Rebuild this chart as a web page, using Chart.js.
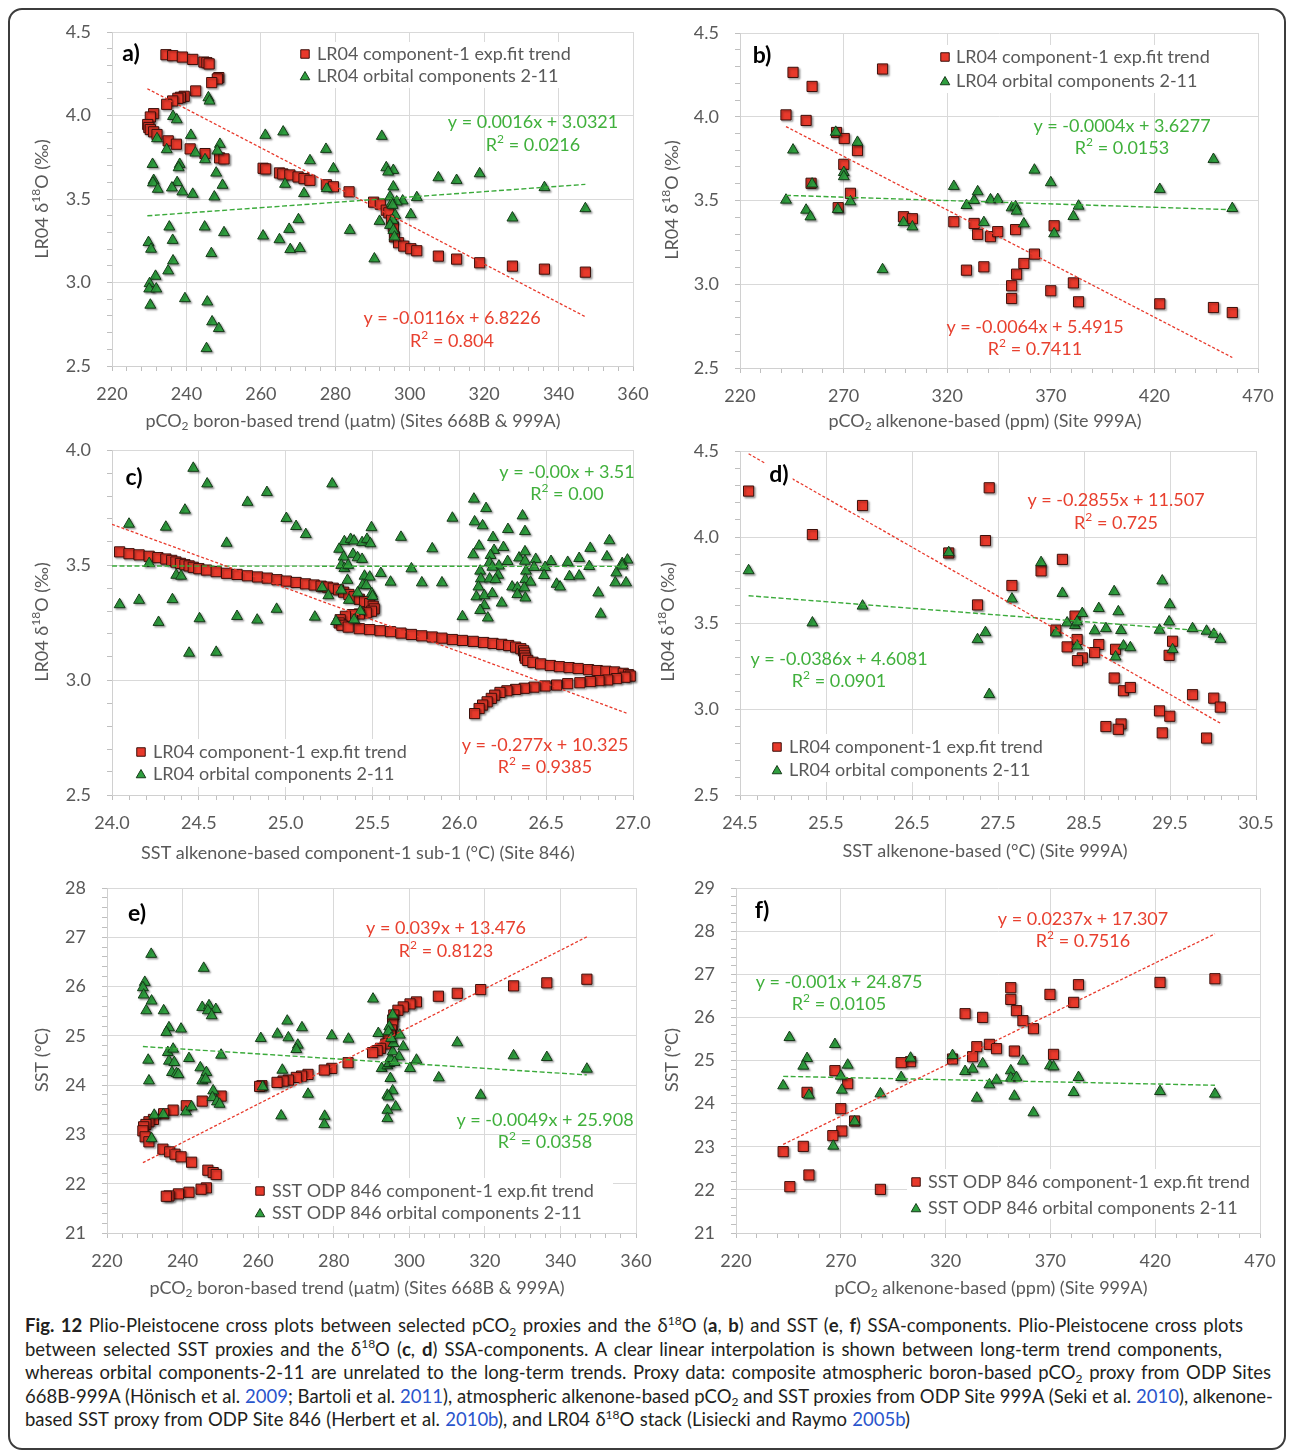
<!DOCTYPE html>
<html>
<head>
<meta charset="utf-8">
<script src="https://cdn.jsdelivr.net/npm/chart.js@4.4.0/dist/chart.umd.min.js"></script>
<style>
  body { margin: 0; width: 1293px; height: 1451px; position: relative; overflow: hidden; background: #fff; font-family: Lato, "Open Sans", sans-serif; }
  .frame { position: absolute; left: 8px; top: 8px; width: 1278px; height: 1442px; box-sizing: border-box; border: 2px solid #3c3c3c; border-radius: 14px; }
  canvas { position: absolute; }
  #cap { position: absolute; left: 25px; top: 1314px; font-size: 18.5px; color: #231f20; }
  #cap .ln { height: 23.5px; line-height: 23.5px; white-space: nowrap; }
  #cap .ln span.t { display: inline-block; }
  #cap sub, #cap sup { font-size: 0.65em; line-height: 0; position: relative; vertical-align: 0; }
  #cap sup { top: -0.6em; }
  #cap sub { top: 0.3em; }
  #cap a { color: #2a55cc; text-decoration: none; }
</style>
</head>
<body>
<div class="frame"></div>

<div id="cap">
  <div class="ln" data-w="1218"><span class="t"><b>Fig. 12</b> Plio-Pleistocene cross plots between selected pCO<sub>2</sub> proxies and the δ<sup>18</sup>O (<b>a</b>, <b>b</b>) and SST (<b>e</b>, <b>f</b>) SSA-components. Plio-Pleistocene cross plots</span></div>
  <div class="ln" data-w="1197"><span class="t">between selected SST proxies and the δ<sup>18</sup>O (<b>c</b>, <b>d</b>) SSA-components. A clear linear interpolation is shown between long-term trend components,</span></div>
  <div class="ln" data-w="1246"><span class="t">whereas orbital components-2-11 are unrelated to the long-term trends. Proxy data: composite atmospheric boron-based pCO<sub>2</sub> proxy from ODP Sites</span></div>
  <div class="ln" data-w="1248"><span class="t">668B-999A (Hönisch et al. <a>2009</a>; Bartoli et al. <a>2011</a>), atmospheric alkenone-based pCO<sub>2</sub> and SST proxies from ODP Site 999A (Seki et al. <a>2010</a>), alkenone-</span></div>
  <div class="ln" data-w="885"><span class="t">based SST proxy from ODP Site 846 (Herbert et al. <a>2010b</a>), and LR04 δ<sup>18</sup>O stack (Lisiecki and Raymo <a>2005b</a>)</span></div>
</div>

<script>
// ---- a) LR04 vs boron pCO2 ----
const aTrendX = [234.5,236.3,238.9,241.7,244.7,245.5,246.1,248.7,248.3,246.8,242.5,239.4,238.4,237.7,236.3,234.7,231.2,230.3,229.6,229.9,230.3,231.2,232.1,235.1,237.3,241.0,245.0,248.9,250.1,260.6,261.3,265.0,265.9,267.8,270.0,271.6,273.2,277.6,279.5,283.7,290.3,292.1,293.7,294.4,295.1,295.6,295.9,297.0,298.4,300.3,301.9,307.7,312.6,318.8,327.6,336.2,347.2];
const aTrendY = [4.364,4.358,4.350,4.336,4.320,4.316,4.309,4.227,4.219,4.197,4.147,4.115,4.109,4.103,4.087,4.067,4.011,3.991,3.946,3.928,3.916,3.902,3.886,3.848,3.828,3.800,3.772,3.746,3.740,3.684,3.680,3.656,3.650,3.644,3.632,3.622,3.612,3.585,3.573,3.543,3.481,3.469,3.433,3.417,3.373,3.333,3.273,3.238,3.218,3.202,3.190,3.158,3.140,3.118,3.098,3.080,3.062];
const aOrbX = [245.9,246.2,236.4,237.4,232.1,241.2,261.2,266.0,292.5,234.7,249.0,248.3,277.5,242.4,245.0,273.2,230.9,238.2,237.9,279.5,293.7,295.6,294.2,307.7,312.6,318.8,248.0,231.2,231.0,237.5,236.1,232.3,238.9,241.7,266.5,249.7,247.5,271.6,277.7,336.2,295.6,294.7,301.9,298.1,296.5,295.1,295.4,300.3,327.6,347.2,291.9,270.1,296.1,295.4,294.7,295.6,295.9,235.4,244.9,250.1,267.6,260.6,283.9,236.3,265.0,229.8,230.5,267.9,270.5,246.7,290.5,236.4,235.1,231.7,230.1,230.0,231.9,230.3,239.6,245.6,246.9,248.7,245.4];
const aOrbY = [4.107,4.087,3.995,3.975,3.862,3.882,3.882,3.902,3.876,3.796,3.828,3.788,3.798,3.776,3.736,3.730,3.708,3.708,3.688,3.682,3.688,3.672,3.662,3.628,3.612,3.652,3.656,3.612,3.597,3.599,3.567,3.559,3.543,3.529,3.589,3.583,3.513,3.533,3.563,3.569,3.573,3.513,3.509,3.489,3.483,3.473,3.463,3.407,3.387,3.443,3.367,3.377,3.403,3.373,3.343,3.313,3.273,3.333,3.333,3.299,3.319,3.279,3.313,3.253,3.257,3.240,3.200,3.198,3.204,3.174,3.142,3.130,3.070,3.038,2.994,2.962,2.962,2.865,2.904,2.884,2.765,2.725,2.605];
const aRedFit = [-0.0116, 6.8226];
const aGreenFit = [0.0016, 3.0321];
const aFitRange = [229.5, 347.2];

// ---- b) LR04 vs alkenone pCO2 ----
const bTrendX = [245.6,254.8,288.8,242.2,251.9,266.6,270.3,276.7,270.1,254.3,273.3,267.4,298.9,303.2,323.2,333.0,334.7,340.9,344.4,353.0,371.6,362.1,357.0,353.5,337.7,329.3,351.1,351.1,370.0,380.9,383.4,422.6,448.5,457.6];
const bTrendY = [4.265,4.181,4.285,4.011,3.978,3.906,3.870,3.798,3.716,3.603,3.543,3.457,3.403,3.391,3.373,3.363,3.298,3.284,3.314,3.326,3.349,3.180,3.124,3.060,3.104,3.084,2.991,2.915,2.961,3.008,2.895,2.883,2.861,2.831];
const bOrbX = [266.2,276.7,245.6,270.1,270.1,254.8,242.2,251.9,254.0,267.2,273.3,288.8,298.9,303.2,323.2,329.3,333.0,334.7,337.7,340.9,344.4,351.1,353.0,353.5,357.0,362.1,370.0,371.6,380.9,383.4,422.6,448.5,457.6];
const bOrbY = [3.908,3.848,3.802,3.668,3.643,3.599,3.503,3.443,3.403,3.447,3.493,3.088,3.369,3.343,3.585,3.471,3.501,3.553,3.369,3.505,3.507,3.457,3.463,3.437,3.361,3.682,3.607,3.302,3.405,3.467,3.567,3.746,3.453];
const bRedFit = [-0.0064, 5.4915];
const bGreenFit = [-0.0004, 3.6277];
const bFitRange = [242.2, 457.6];

// ---- c) LR04 vs SST site 846 ----
const cTrendX = [24.044,24.098,24.156,24.214,24.264,24.310,24.344,24.368,24.394,24.420,24.444,24.468,24.500,24.544,24.600,24.660,24.720,24.780,24.838,24.894,24.950,25.004,25.060,25.114,25.164,25.204,25.240,25.274,25.304,25.334,25.364,25.394,25.424,25.454,25.484,25.504,25.510,25.494,25.464,25.424,25.384,25.344,25.314,25.308,25.324,25.360,25.424,25.484,25.544,25.604,25.664,25.724,25.784,25.844,25.900,25.960,26.018,26.080,26.140,26.194,26.244,26.284,26.324,26.354,26.370,26.376,26.376,26.380,26.394,26.424,26.468,26.524,26.576,26.632,26.684,26.744,26.794,26.844,26.894,26.944,26.974,26.984,26.954,26.904,26.854,26.804,26.754,26.694,26.624,26.560,26.494,26.430,26.374,26.324,26.274,26.234,26.204,26.184,26.160,26.134,26.114,26.088];
const cTrendY = [3.557,3.549,3.544,3.538,3.532,3.526,3.520,3.513,3.507,3.501,3.496,3.490,3.484,3.478,3.471,3.464,3.459,3.453,3.448,3.443,3.436,3.430,3.424,3.418,3.413,3.408,3.404,3.399,3.392,3.382,3.372,3.362,3.351,3.341,3.332,3.321,3.309,3.299,3.292,3.287,3.284,3.277,3.262,3.248,3.238,3.230,3.223,3.219,3.214,3.210,3.204,3.198,3.192,3.187,3.182,3.176,3.172,3.168,3.163,3.159,3.155,3.150,3.143,3.136,3.127,3.117,3.105,3.095,3.085,3.077,3.070,3.063,3.058,3.054,3.050,3.045,3.041,3.038,3.035,3.029,3.023,3.017,3.012,3.006,3.000,2.997,2.993,2.988,2.984,2.978,2.974,2.969,2.964,2.959,2.953,2.946,2.934,2.920,2.905,2.891,2.876,2.854];
const cOrbX = [24.468,24.548,25.268,24.892,24.780,24.420,24.098,24.310,25.004,25.060,25.116,24.660,24.214,24.370,24.398,24.044,24.156,24.348,24.268,24.444,24.600,24.504,24.720,24.836,24.948,25.168,
  25.338,25.374,25.394,25.440,25.468,25.488,25.494,25.308,25.334,25.388,25.414,25.440,25.320,25.338,25.360,25.356,25.454,25.484,25.444,25.464,25.210,25.320,25.246,25.364,25.414,25.496,25.500,25.430,25.394,25.290,25.548,25.604,25.664,25.724,25.784,25.844,25.900,25.960,
  26.084,26.154,26.364,26.088,26.134,26.280,26.378,26.194,26.114,26.200,26.254,26.080,26.180,26.174,26.344,26.378,26.378,26.440,26.528,26.624,26.690,26.754,26.864,26.850,26.968,26.938,26.278,26.120,26.228,26.190,26.384,26.430,26.494,26.748,26.904,26.224,26.124,26.174,26.208,26.380,26.410,26.488,26.634,26.690,26.560,26.580,26.898,26.960,26.304,26.334,26.374,26.110,26.098,26.144,26.190,26.334,26.380,26.244,26.144,26.120,26.164,26.018,26.800,26.814,26.938];
const cOrbY = [3.921,3.853,3.853,3.816,3.773,3.739,3.678,3.665,3.703,3.668,3.633,3.595,3.507,3.456,3.452,3.328,3.347,3.350,3.251,3.117,3.121,3.267,3.277,3.261,3.308,3.274,
  3.602,3.612,3.605,3.598,3.612,3.593,3.663,3.569,3.535,3.547,3.532,3.525,3.499,3.485,3.499,3.434,3.452,3.448,3.413,3.411,3.402,3.391,3.367,3.347,3.379,3.376,3.364,3.299,3.262,3.255,3.464,3.426,3.621,3.484,3.423,3.571,3.423,3.704,
  3.787,3.746,3.714,3.688,3.671,3.655,3.646,3.620,3.583,3.564,3.577,3.545,3.542,3.510,3.531,3.558,3.517,3.525,3.516,3.512,3.529,3.573,3.606,3.536,3.522,3.507,3.516,3.474,3.496,3.491,3.474,3.490,3.490,3.494,3.466,3.456,3.440,3.440,3.437,3.437,3.426,3.455,3.450,3.453,3.417,3.405,3.423,3.423,3.405,3.401,3.401,3.405,3.362,3.367,3.376,3.372,3.357,3.335,3.324,3.303,3.270,3.276,3.379,3.287,3.496];
const cRedFit = [-0.277, 10.325];
const cGreenFit = [-0.0006, 3.51];
const cFitRange = [24.0, 26.97];

// ---- d) LR04 vs SST site 999A ----
const dTrendX = [24.60,25.342,25.925,27.398,27.354,26.927,28.249,28.001,27.662,27.262,28.396,28.173,28.420,28.304,28.672,28.624,28.867,28.480,28.424,28.851,28.959,29.039,29.530,29.490,29.762,30.009,30.085,29.378,29.498,28.755,28.931,28.899,29.410,29.925];
const dTrendY = [4.267,4.014,4.183,4.286,3.979,3.907,3.870,3.803,3.718,3.605,3.540,3.459,3.404,3.361,3.375,3.328,3.347,3.297,3.281,3.180,3.106,3.125,3.394,3.312,3.083,3.063,3.011,2.989,2.958,2.898,2.913,2.882,2.861,2.831];
const dOrbX = [24.60,25.342,25.925,26.927,27.262,27.354,27.398,27.662,28.001,28.173,28.249,28.304,28.396,28.420,28.420,28.480,28.624,28.672,28.755,28.851,28.899,28.931,28.867,28.959,29.039,29.410,29.378,29.498,29.490,29.530,29.762,29.925,30.009,30.085];
const dOrbY = [3.805,3.501,3.599,3.910,3.404,3.445,3.085,3.640,3.852,3.443,3.673,3.501,3.486,3.507,3.367,3.556,3.455,3.585,3.468,3.683,3.566,3.457,3.303,3.367,3.357,3.745,3.459,3.607,3.507,3.346,3.468,3.453,3.435,3.406];
const dRedFit = [-0.2855, 11.507];
const dGreenFit = [-0.0386, 4.6081];
const dFitRange = [24.6, 30.085];

// ---- e) SST 846 vs boron pCO2 ----
const eTrendX = [347.0,336.4,327.6,318.9,312.7,307.7,301.9,300.2,298.4,297.0,295.9,295.6,295.6,295.3,295.0,294.4,293.8,292.4,291.5,290.3,283.8,279.5,277.5,273.2,271.5,270.1,268.0,266.6,265.0,261.0,260.4,250.2,245.2,241.0,237.5,235.0,232.3,231.1,230.3,229.7,229.5,230.1,231.1,234.8,236.6,238.0,239.6,242.4,246.7,248.1,248.9,246.3,244.9,241.7,238.9,236.4,235.7];
const eTrendY = [26.149,26.075,26.014,25.939,25.864,25.804,25.688,25.648,25.587,25.519,25.424,25.322,25.221,25.119,25.018,24.930,24.835,24.747,24.699,24.659,24.455,24.340,24.306,24.218,24.184,24.157,24.103,24.083,24.056,23.988,23.974,23.778,23.676,23.581,23.493,23.419,23.304,23.256,23.202,23.154,23.073,22.951,22.850,22.701,22.646,22.599,22.545,22.436,22.274,22.226,22.186,21.915,21.888,21.827,21.793,21.752,21.745];
const eOrbX = [231.7,245.6,230.0,229.5,229.7,231.8,230.4,235.0,245.2,247.0,246.7,248.8,247.7,236.4,235.7,239.6,236.1,237.5,230.9,236.4,237.8,241.7,250.2,231.1,237.2,238.4,238.9,244.7,246.3,245.2,246.1,248.1,247.9,249.1,249.8,232.5,234.9,240.9,242.4,231.8,260.7,265.1,267.7,268.0,270.5,270.1,271.6,266.4,261.2,273.2,266.1,277.6,277.5,279.5,283.9,290.4,291.8,292.7,294.2,294.7,295.0,295.6,295.8,295.6,294.7,294.5,295.2,297.5,298.4,297.3,296.1,295.0,295.6,294.2,294.5,296.4,294.2,294.2,300.2,301.9,307.8,312.7,318.9,327.6,336.4,347.0];
const eOrbY = [26.657,26.373,26.088,25.980,25.831,25.709,25.512,25.512,25.580,25.614,25.512,25.539,25.411,25.167,25.072,25.140,24.665,24.733,24.509,24.489,24.462,24.543,24.611,24.089,24.259,24.238,24.218,24.354,24.259,24.089,24.123,23.886,23.751,23.663,23.615,23.392,23.405,23.459,23.561,22.917,24.950,25.038,25.302,24.963,24.814,24.726,25.167,24.306,23.967,23.818,23.378,23.371,23.202,25.004,24.936,25.749,25.051,24.340,24.394,24.442,24.543,24.679,24.848,25.424,25.187,25.085,24.950,25.018,24.780,24.577,24.462,24.137,23.886,23.798,23.764,23.561,23.493,23.324,24.340,24.509,24.150,24.862,23.798,24.598,24.564,24.327];
const eRedFit = [0.039, 13.476];
const eGreenFit = [-0.0049, 25.908];
const eFitRange = [229.5, 347.0];

// ---- f) SST 846 vs alkenone pCO2 ----
const fTrendX = [448.5,422.3,383.4,351.1,351.1,369.8,381.1,353.8,356.9,361.9,329.3,337.7,340.9,334.9,344.3,352.8,371.5,332.9,323.3,303.3,298.8,267.2,273.3,253.9,270.0,276.6,270.5,266.2,252.1,242.5,254.8,245.7,288.9];
const fTrendY = [26.896,26.811,26.757,26.688,26.417,26.533,26.348,26.155,25.923,25.737,26.085,26.000,25.374,25.320,25.274,25.219,25.142,25.088,25.034,24.972,24.949,24.764,24.462,24.261,23.883,23.597,23.365,23.257,23.009,22.886,22.345,22.074,22.012];
const fOrbX = [245.5,267.2,253.9,252.1,273.3,242.5,254.8,270.0,270.5,266.4,276.6,288.9,298.8,303.3,323.3,329.3,332.9,337.7,334.9,340.9,344.3,351.1,351.1,353.8,352.8,356.9,361.9,369.8,371.5,381.1,383.4,422.3,448.5];
const fOrbY = [25.536,25.374,25.049,24.872,24.895,24.416,24.199,24.640,24.315,23.017,23.581,24.230,24.609,25.057,25.119,24.748,24.802,24.926,24.130,24.439,24.547,24.764,24.594,24.609,24.176,24.988,23.790,24.879,24.856,24.261,24.609,24.284,24.223];
const fRedFit = [0.0237, 17.307];
const fGreenFit = [-0.001, 24.875];
const fFitRange = [242.5, 448.5];

const lrNames = ['LR04 component-1 exp.fit trend', 'LR04 orbital components 2-11'];
const sstNames = ['SST ODP 846 component-1 exp.fit trend', 'SST ODP 846 orbital components 2-11'];

const FONT = 'Lato, "Open Sans", sans-serif';
const GRAY = '#595959';
const RED = '#e8392b', RED_EDGE = '#3b0f0a';
const GREEN = '#2f9f3f', GREEN_EDGE = '#153a18';
const RED_TXT = '#e8402f', GREEN_TXT = '#40b03c';

// page-pixel layout of each panel
const panels = [
  { box: [20, 14, 640, 420], plot: [112, 32, 633, 366],
    x: { min: 220, max: 360, major: 20, minor: 4, dec: 0 }, y: { min: 2.5, max: 4.5, major: 0.5, minor: 0.1, dec: 1 },
    red: [aTrendX, aTrendY], green: [aOrbX, aOrbY], redFit: aRedFit, greenFit: aGreenFit, range: aFitRange,
    xTitle: ['pCO{_2} boron-based trend (µatm) (Sites 668B & 999A)', 353, 421], yTitle: ['LR04 δ{^18}O (‰)', 42, 199],
    letter: ['a)', 131, 54], legend: { names: lrNames, mx: 305, tx: 317, y: [54, 76], bg: [297, 42, 293, 46] },
    eqs: [['y = 0.0016x + 3.0321', 533, 122, GREEN_TXT], ['R{^2} = 0.0216', 533, 145, GREEN_TXT],
          ['y = -0.0116x + 6.8226', 452, 318, RED_TXT], ['R{^2} = 0.804', 452, 341, RED_TXT]] },
  { box: [650, 14, 630, 420], plot: [740, 33, 1258, 368],
    x: { min: 220, max: 470, major: 50, minor: 10, dec: 0 }, y: { min: 2.5, max: 4.5, major: 0.5, minor: 0.1, dec: 1 },
    red: [bTrendX, bTrendY], green: [bOrbX, bOrbY], redFit: bRedFit, greenFit: bGreenFit, range: bFitRange,
    xTitle: ['pCO{_2} alkenone-based (ppm) (Site 999A)', 985, 421], yTitle: ['LR04 δ{^18}O (‰)', 672, 200],
    letter: ['b)', 762, 56], legend: { names: lrNames, mx: 945, tx: 956, y: [57, 81], bg: [937, 45, 293, 48] },
    eqs: [['y = -0.0004x + 3.6277', 1122, 126, GREEN_TXT], ['R{^2} = 0.0153', 1122, 148, GREEN_TXT],
          ['y = -0.0064x + 5.4915', 1035, 327, RED_TXT], ['R{^2} = 0.7411', 1035, 349, RED_TXT]] },
  { box: [20, 436, 640, 430], plot: [112, 450, 633, 795],
    x: { min: 24, max: 27, major: 0.5, minor: 0.1, dec: 1 }, y: { min: 2.5, max: 4.0, major: 0.5, minor: 0.1, dec: 1 },
    red: [cTrendX, cTrendY], green: [cOrbX, cOrbY], redFit: cRedFit, greenFit: cGreenFit, range: cFitRange,
    xTitle: ['SST alkenone-based component-1 sub-1 (°C) (Site 846)', 358, 853], yTitle: ['LR04 δ{^18}O (‰)', 42, 622],
    letter: ['c)', 134, 478], legend: { names: lrNames, mx: 141, tx: 153, y: [752, 774], bg: [132, 739, 295, 48] },
    eqs: [['y = -0.00x + 3.51', 567, 472, GREEN_TXT], ['R{^2} = 0.00', 567, 494, GREEN_TXT],
          ['y = -0.277x + 10.325', 545, 745, RED_TXT], ['R{^2} = 0.9385', 545, 767, RED_TXT]] },
  { box: [650, 436, 630, 430], plot: [740, 451, 1256, 795],
    x: { min: 24.5, max: 30.5, major: 1, minor: 0.2, dec: 1 }, y: { min: 2.5, max: 4.5, major: 0.5, minor: 0.1, dec: 1 },
    red: [dTrendX, dTrendY], green: [dOrbX, dOrbY], redFit: dRedFit, greenFit: dGreenFit, range: dFitRange,
    xTitle: ['SST alkenone-based (°C) (Site 999A)', 985, 851], yTitle: ['LR04 δ{^18}O (‰)', 668, 622],
    letter: ['d)', 779, 475], legend: { names: lrNames, mx: 777, tx: 789, y: [747, 770], bg: [768, 734, 295, 48] },
    eqs: [['y = -0.2855x + 11.507', 1116, 500, RED_TXT], ['R{^2} = 0.725', 1116, 523, RED_TXT],
          ['y = -0.0386x + 4.6081', 839, 659, GREEN_TXT], ['R{^2} = 0.0901', 839, 681, GREEN_TXT]] },
  { box: [20, 870, 640, 430], plot: [107, 888, 636, 1233],
    x: { min: 220, max: 360, major: 20, minor: 4, dec: 0 }, y: { min: 21, max: 28, major: 1, minor: 0.2, dec: 0 },
    red: [eTrendX, eTrendY], green: [eOrbX, eOrbY], redFit: eRedFit, greenFit: eGreenFit, range: eFitRange,
    xTitle: ['pCO{_2} boron-based trend (µatm) (Sites 668B & 999A)', 357, 1288], yTitle: ['SST (°C)', 42, 1060],
    letter: ['e)', 137, 914], legend: { names: sstNames, mx: 260, tx: 272, y: [1191, 1213], bg: [251, 1178, 362, 48] },
    eqs: [['y = 0.039x + 13.476', 446, 928, RED_TXT], ['R{^2} = 0.8123', 446, 951, RED_TXT],
          ['y = -0.0049x + 25.908', 545, 1120, GREEN_TXT], ['R{^2} = 0.0358', 545, 1142, GREEN_TXT]] },
  { box: [650, 870, 630, 430], plot: [736, 888, 1260, 1233],
    x: { min: 220, max: 470, major: 50, minor: 10, dec: 0 }, y: { min: 21, max: 29, major: 1, minor: 0.2, dec: 0 },
    red: [fTrendX, fTrendY], green: [fOrbX, fOrbY], redFit: fRedFit, greenFit: fGreenFit, range: fFitRange,
    xTitle: ['pCO{_2} alkenone-based (ppm) (Site 999A)', 991, 1288], yTitle: ['SST (°C)', 672, 1060],
    letter: ['f)', 762, 911], legend: { names: sstNames, mx: 916, tx: 928, y: [1182, 1208], bg: [907, 1169, 353, 50] },
    eqs: [['y = 0.0237x + 17.307', 1083, 919, RED_TXT], ['R{^2} = 0.7516', 1083, 941, RED_TXT],
          ['y = -0.001x + 24.875', 839, 982, GREEN_TXT], ['R{^2} = 0.0105', 839, 1004, GREEN_TXT]] }
];

function zip(pair) { return pair[0].map((x, i) => ({ x: x, y: pair[1][i] })); }

function fitLine(fit, range) {
  return range.map(x => ({ x: x, y: fit[0] * x + fit[1] }));
}

function parts(s) {
  const out = [], re = /\{([_^])([^}]*)\}/g;
  let last = 0, m;
  while ((m = re.exec(s))) {
    if (m.index > last) out.push({ t: s.slice(last, m.index), k: '' });
    out.push({ t: m[2], k: m[1] });
    last = re.lastIndex;
  }
  if (last < s.length) out.push({ t: s.slice(last), k: '' });
  return out;
}

function richText(ctx, s, x, y, size, color, align, weight) {
  const ps = parts(s);
  const font = k => `${weight || 'normal'} ${k ? Math.round(size * 0.65) : size}px ${FONT}`;
  let w = 0;
  ps.forEach(p => { ctx.font = font(p.k); p.w = ctx.measureText(p.t).width; w += p.w; });
  let cx = align === 'center' ? x - w / 2 : align === 'right' ? x - w : x;
  ctx.fillStyle = color;
  ctx.textAlign = 'left';
  ctx.textBaseline = 'middle';
  ps.forEach(p => {
    ctx.font = font(p.k);
    const dy = p.k === '^' ? -size * 0.34 : p.k === '_' ? size * 0.26 : 0;
    ctx.fillText(p.t, cx, y + dy);
    cx += p.w;
  });
  return w;
}

function marker(ctx, style, x, y, r) {
  ctx.fillStyle = style === 'rect' ? RED : GREEN;
  ctx.strokeStyle = style === 'rect' ? RED_EDGE : GREEN_EDGE;
  ctx.lineWidth = 1;
  Chart.helpers.drawPoint(ctx, { pointStyle: style, radius: r, rotation: 0, borderWidth: 1 }, x, y);
}

function deco(p) {
  const ox = p.box[0], oy = p.box[1];
  return {
    id: 'deco',
    beforeDatasetDraw(chart, args) {
      const ctx = chart.ctx;
      if (!chart.data.datasets[args.index].isFit) {
        ctx.shadowColor = 'rgba(0,0,0,0.35)';
        ctx.shadowBlur = 2;
        ctx.shadowOffsetX = 1.5;
        ctx.shadowOffsetY = 1.5;
      }
    },
    afterDatasetDraw(chart) {
      const ctx = chart.ctx;
      ctx.shadowColor = 'rgba(0,0,0,0)';
      ctx.shadowBlur = 0;
      ctx.shadowOffsetX = 0;
      ctx.shadowOffsetY = 0;
    },
    afterDraw(chart) {
      const ctx = chart.ctx;
      ctx.save();
      // axis titles
      richText(ctx, p.xTitle[0], p.xTitle[1] - ox, p.xTitle[2] - oy, 18, GRAY, 'center');
      ctx.save();
      ctx.translate(p.yTitle[1] - ox, p.yTitle[2] - oy);
      ctx.rotate(-Math.PI / 2);
      richText(ctx, p.yTitle[0], 0, 0, 18, GRAY, 'center');
      ctx.restore();
      // panel letter on white
      ctx.font = `bold 23px ${FONT}`;
      const lw = ctx.measureText(p.letter[0]).width;
      ctx.fillStyle = '#fff';
      ctx.fillRect(p.letter[1] - ox - lw / 2 - 4, p.letter[2] - oy - 14, lw + 8, 28);
      richText(ctx, p.letter[0], p.letter[1] - ox, p.letter[2] - oy, 23, '#000', 'center', 'bold');
      // legend
      const L = p.legend;
      ctx.fillStyle = '#fff';
      ctx.fillRect(L.bg[0] - ox, L.bg[1] - oy, L.bg[2], L.bg[3]);
      marker(ctx, 'rect', L.mx - ox, L.y[0] - oy, 6);
      marker(ctx, 'triangle', L.mx - ox, L.y[1] - oy + 1, 5.5);
      richText(ctx, L.names[0], L.tx - ox, L.y[0] - oy, 18, GRAY, 'left');
      richText(ctx, L.names[1], L.tx - ox, L.y[1] - oy, 18, GRAY, 'left');
      // regression equations
      p.eqs.forEach(e => richText(ctx, e[0], e[1] - ox, e[2] - oy, 18, e[3], 'center'));
      ctx.restore();
    }
  };
}

function axis(a, isX, size) {
  const isMajor = v => Math.abs((v - a.min) / a.major - Math.round((v - a.min) / a.major)) < 1e-6;
  return {
    type: 'linear',
    min: a.min,
    max: a.max,
    afterBuildTicks: s => {
      const n = Math.round((a.max - a.min) / a.minor), t = [];
      for (let i = 0; i <= n; i++) t.push({ value: +(a.min + i * a.minor).toFixed(6) });
      s.ticks = t;
    },
    afterFit: s => {
      // fixed axis size; keep label overhang from moving the plot area
      if (isX) { s.height = size; s.paddingLeft = 0; s.paddingRight = 0; }
      else { s.width = size; s.paddingTop = 0; s.paddingBottom = 0; }
    },
    ticks: {
      autoSkip: false,
      maxRotation: 0,
      minRotation: 0,
      padding: isX ? 12 : 16,
      color: GRAY,
      font: { family: FONT, size: 18 },
      callback: v => isMajor(v) ? v.toFixed(a.dec) : ''
    },
    grid: {
      color: c => (c.tick && isMajor(c.tick.value)) ? '#d9d9d9' : 'rgba(0,0,0,0)',
      tickColor: '#bfbfbf',
      tickLength: 5,
      lineWidth: 1
    },
    border: { display: true, color: '#d0d0d0', width: 1 }
  };
}

panels.forEach(p => {
  const [bx, by, bw, bh] = p.box, [pl, pt, pr, pb] = p.plot;
  const cv = document.createElement('canvas');
  cv.width = bw; cv.height = bh;
  cv.style.left = bx + 'px'; cv.style.top = by + 'px';
  cv.style.width = bw + 'px'; cv.style.height = bh + 'px';
  document.body.appendChild(cv);

  new Chart(cv, {
    type: 'scatter',
    data: {
      datasets: [
        { data: fitLine(p.redFit, p.range), isFit: true, showLine: true, pointRadius: 0,
          borderColor: RED, borderWidth: 1.3, borderDash: [3, 2], order: 0 },
        { data: fitLine(p.greenFit, p.range), isFit: true, showLine: true, pointRadius: 0,
          borderColor: '#3aaa3a', borderWidth: 1.4, borderDash: [5, 2.5], order: 0 },
        { data: zip(p.green), pointStyle: 'triangle', pointRadius: 6.3, clip: false,
          pointBackgroundColor: GREEN, pointBorderColor: GREEN_EDGE, pointBorderWidth: 1,
          backgroundColor: GREEN, borderColor: GREEN_EDGE, order: 1 },
        { data: zip(p.red), pointStyle: 'rect', pointRadius: 7.2, clip: false,
          pointBackgroundColor: RED, pointBorderColor: RED_EDGE, pointBorderWidth: 1,
          backgroundColor: RED, borderColor: RED_EDGE, order: 2 }
      ]
    },
    options: {
      responsive: false,
      animation: false,
      devicePixelRatio: 1,
      events: [],
      layout: { padding: { left: 0, top: pt - by, right: bx + bw - pr, bottom: 0 } },
      plugins: { legend: { display: false }, tooltip: { enabled: false }, title: { display: false } },
      scales: {
        x: axis(p.x, true, by + bh - pb),
        y: axis(p.y, false, pl - bx)
      }
    },
    plugins: [deco(p)]
  });
});

// stretch caption lines to the reference line widths
function fitCaption() {
  document.querySelectorAll('#cap .ln').forEach(ln => {
    const span = ln.querySelector('.t');
    span.style.wordSpacing = '0px';
    const w = span.getBoundingClientRect().width;
    const target = +ln.dataset.w;
    const spaces = (span.textContent.match(/ /g) || []).length;
    if (spaces) span.style.wordSpacing = ((target - w) / spaces).toFixed(2) + 'px';
  });
}
fitCaption();
if (document.fonts && document.fonts.ready) document.fonts.ready.then(fitCaption);
</script>
</body>
</html>
